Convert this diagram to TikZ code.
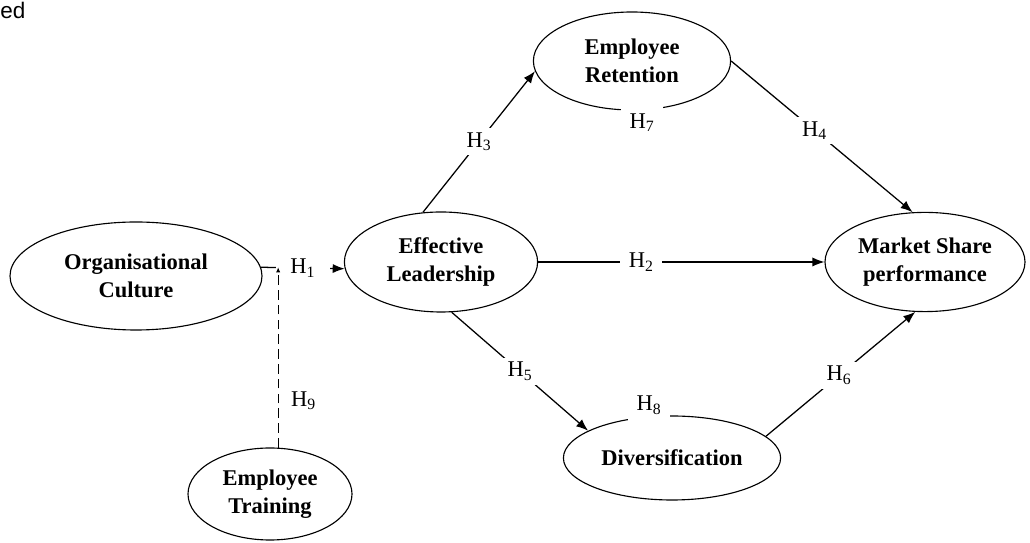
\documentclass[tikz,border=0pt]{standalone}
\usepackage{fontspec}
\setmainfont{Liberation Serif}
\newfontfamily\capfont{Liberation Sans}
\usetikzlibrary{shapes,calc}
\usetikzlibrary{arrows.meta}
\tikzset{>={Latex[length=3mm,width=2.3mm]}}
\tikzset{construct/.style = {draw, ellipse, line width=0.8pt, align=center, inner sep=0pt,
                  font=\fontsize{16}{20}\selectfont\bfseries},
        hyp/.style = {fill=white, font=\fontsize{16}{18}\selectfont, inner xsep=6pt, inner ysep=3pt},
        link/.style = {->, line width=0.9pt}
    }

\begin{document}
\begin{tikzpicture}
          \tikzstyle{gap} = [hyp, inner ysep=5pt]
          \useasboundingbox (0,0) rectangle (25.75,13.575);

          % cut caption at the top
          \node[anchor=base west, inner sep=0pt, font=\capfont\fontsize{16}{19}\selectfont] (frag) at (0,13.12) {ed};

          % constructs
          \node[construct, minimum width=6.3cm, minimum height=2.7cm] (org) at (3.4,6.675) {Organisational\\Culture};
          \node[construct, minimum width=4.1cm, minimum height=2.3cm] (train) at (6.75,1.225) {Employee\\Training};
          \node[construct, minimum width=4.83cm, minimum height=2.5cm] (eff) at (11.025,7.025) {Effective\\Leadership};
          \node[construct, minimum width=4.93cm, minimum height=2.45cm] (ret) at (15.8,12.05) {Employee\\Retention};
          \node[construct, minimum width=5cm, minimum height=2.48cm] (mkt) at (23.125,7.025) {Market Share\\performance};
          \node[construct, minimum width=5.43cm, minimum height=2.1cm] (div) at (16.8,2.125) {Diversification};

          % hypotheses
          \draw[link] (org.4) -- node[hyp, minimum width=1.35cm] {H\textsubscript{1}\hspace{0.22cm}} (eff.184);
          \draw[dashed, dash pattern=on 2.4mm off 1.3mm, line width=0.8pt, -{Latex[length=1.3mm,width=1.1mm]}]
               (train.80) -- node[hyp, pos=0.26, right=1mm] {H\textsubscript{9}} (train.80 |- org.4);
          \draw[link] (eff.east) -- node[hyp, pos=0.36] {H\textsubscript{2}} (mkt.west);
          \draw[link] (eff.110) -- node[hyp, pos=0.5] {H\textsubscript{3}} (ret.186);
          \draw[link] (ret.east) -- node[hyp, pos=0.46] {H\textsubscript{4}} (mkt.104);
          \draw[link] (eff.282) -- node[hyp, pos=0.5] {H\textsubscript{5}} (div.162);
          \draw[link] (div.13) -- node[hyp, pos=0.49] {H\textsubscript{6}} (mkt.259);
          \node[gap] (h7) at ([xshift=0.25cm,yshift=-0.3cm]ret.south) {H\textsubscript{7}};
          \node[gap] (h8) at ([xshift=-0.575cm,yshift=0.25cm]div.north) {H\textsubscript{8}};
        \end{tikzpicture}
\end{document}
